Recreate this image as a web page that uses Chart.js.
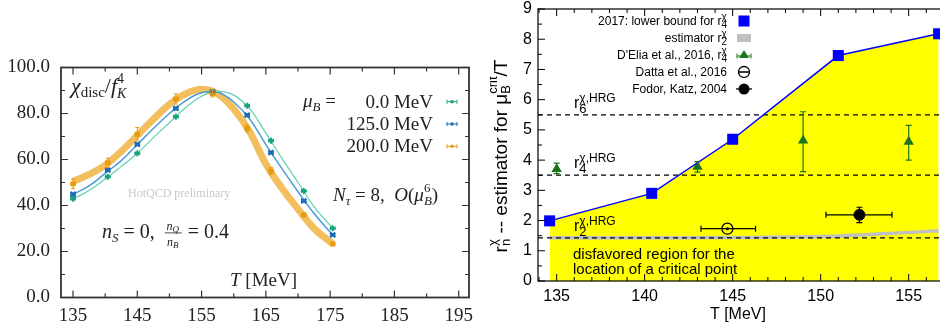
<!DOCTYPE html>
<html>
<head>
<meta charset="utf-8">
<script src="https://cdn.jsdelivr.net/npm/chart.js@4.4.1/dist/chart.umd.min.js"></script>
<style>
  html, body { margin: 0; padding: 0; background: #fff; overflow: hidden; width: 940px; height: 329px; }
  #left { position: absolute; left: 0; top: 0; }
  #right { position: absolute; left: 490px; top: 0; }
</style>
</head>
<body>
<canvas id="left" width="490" height="329"></canvas>
<canvas id="right" width="470" height="329"></canvas>
<script>
// ---- left panel: chi_disc / f_K^4 vs T ----
const latT = [135, 140.4, 145, 151, 156.7, 162.1, 165.8, 170.9, 175.4];
const latTErr = [0.35, 0.35, 0.35, 0.35, 0.35, 0.35, 0.35, 0.35, 0.35];
const chiMu0 = [42.9, 52.5, 62.7, 78.6, 89.2, 83.4, 68.2, 46.3, 30.1];
const chiMu125 = [44.9, 55.4, 66.6, 82.2, 89.4, 79.3, 63.0, 42.0, 27.2];
const chiMu200 = [49.4, 58.6, 71.0, 86.3, 88.7, 73.5, 55.0, 35.9, 23.3];
const errMu0 = [0.4, 0.4, 0.4, 0.4, 0.5, 0.4, 0.4, 0.4, 0.4];
const errMu125 = [0.5, 0.6, 0.6, 0.6, 0.6, 0.6, 0.6, 0.5, 0.5];
const errMu200 = [2.0, 2.0, 2.9, 2.2, 1.5, 1.6, 1.5, 0.7, 0.5];

const fitT = [135, 137.5, 140, 142.5, 145, 147.5, 150, 152.5, 155, 157.5, 160, 162.5, 165, 167.5, 170, 172.5, 175.4];
const fitMu0 = [42.9, 46.5, 51.5, 57, 62.7, 69.5, 76, 82.5, 87.5, 89.6, 88, 82, 71.5, 60.5, 50, 39.5, 30.1];
const fitMu125 = [44.9, 48.5, 54, 59.5, 66.5, 73.5, 80, 85.5, 89, 89.2, 85, 77.5, 66.5, 56, 46, 36.5, 27.2];
const fitMu200 = [50.5, 53.5, 57.5, 63.5, 70.5, 77.5, 84, 88.5, 90.5, 88.5, 82, 72, 58, 47.5, 38.5, 30, 23.3];

const muLabels = ['0.0 MeV', '125.0 MeV', '200.0 MeV'];
const leftXTicks = [135, 145, 155, 165, 175, 185, 195];
const leftYTicks = [0, 20, 40, 60, 80, 100];

// ---- right panel: r_n estimators for mu_B^crit/T ----
const boundT = [134.6, 140.4, 145, 151, 156.7];
const boundR4 = [1.99, 2.9, 4.69, 7.46, 8.18];
const estT = [134.6, 140, 145, 150, 153.5, 156.7];
const estR2 = [1.43, 1.43, 1.44, 1.47, 1.56, 1.66];
const deliaT = [135, 143, 149, 155];
const deliaR4 = [3.71, 3.78, 4.65, 4.61];
const deliaLo = [3.55, 3.6, 3.62, 4.0];
const deliaHi = [3.9, 3.95, 5.6, 5.15];
const dattaT = [144.7];
const dattaR = [1.73];
const dattaTLo = [143.2];
const dattaTHi = [146.3];
const fodorT = [152.2];
const fodorR = [2.19];
const fodorTLo = [150.3];
const fodorTHi = [154.05];
const fodorRLo = [1.93];
const fodorRHi = [2.44];
const hrgLevels = [5.5, 3.5, 1.43];
const hrgIdx = ['6', '4', '2'];
const rightXTicks = [135, 140, 145, 150, 155];
const rightYTicks = [0, 1, 2, 3, 4, 5, 6, 7, 8, 9];

const SERIF = '"Liberation Serif", "Times New Roman", serif';
const SANS = '"Liberation Sans", Arial, sans-serif';
const sf = (sz, it) => (it ? 'italic ' : '') + sz + 'px ' + SERIF;
const af = sz => sz + 'px ' + SANS;

const C0 = '#16a37c', C0L = '#5fd0b2';
const C125 = '#1a6db3', C125L = '#4b9bd8';
const C200 = '#e89c10', C200L = 'rgba(242,184,78,0.92)';
const GREEN = '#1b741b';

const pts = (xs, ys) => xs.map((x, i) => ({ x: x, y: ys[i] }));

// draw text pieces with sub/superscripts; {stack:true} puts next piece at same x
function rich(ctx, segs, x, y, align) {
  const pos = [];
  let w = 0;
  for (let i = 0; i < segs.length; i++) {
    ctx.font = segs[i].f;
    const sw = ctx.measureText(segs[i].t).width;
    if (segs[i].stack && segs[i + 1]) {
      ctx.font = segs[i + 1].f;
      const sw2 = ctx.measureText(segs[i + 1].t).width;
      pos.push(w, w);
      w += Math.max(sw, sw2);
      i++;
    } else {
      pos.push(w);
      w += sw;
    }
  }
  const x0 = align === 'right' ? x - w : align === 'center' ? x - w / 2 : x;
  ctx.textAlign = 'left';
  ctx.textBaseline = 'alphabetic';
  segs.forEach((s, k) => {
    ctx.font = s.f;
    ctx.fillText(s.t, x0 + pos[k], y + (s.dy || 0));
  });
  return w;
}

function midpoints(arr) {
  const out = [];
  for (let i = 0; i < arr.length - 1; i++) out.push((arr[i] + arr[i + 1]) / 2);
  return out;
}

// inward ticks on the frame
function frameTicks(chart, xs, ys, len, mirrorX, mirrorY) {
  const { ctx, chartArea: a, scales: { x, y } } = chart;
  ctx.beginPath();
  xs.forEach(v => {
    const px = x.getPixelForValue(v);
    ctx.moveTo(px, a.bottom); ctx.lineTo(px, a.bottom - len);
    if (mirrorX) { ctx.moveTo(px, a.top); ctx.lineTo(px, a.top + len); }
  });
  ys.forEach(v => {
    const py = y.getPixelForValue(v);
    ctx.moveTo(a.left, py); ctx.lineTo(a.left + len, py);
    if (mirrorY) { ctx.moveTo(a.right, py); ctx.lineTo(a.right - len, py); }
  });
  ctx.stroke();
}

function errBar(ctx, x0, y0, x1, y1, cap, vertical) {
  ctx.moveTo(x0, y0); ctx.lineTo(x1, y1);
  if (vertical) {
    ctx.moveTo(x0 - cap, y0); ctx.lineTo(x0 + cap, y0);
    ctx.moveTo(x1 - cap, y1); ctx.lineTo(x1 + cap, y1);
  } else {
    ctx.moveTo(x0, y0 - cap); ctx.lineTo(x0, y0 + cap);
    ctx.moveTo(x1, y1 - cap); ctx.lineTo(x1, y1 + cap);
  }
}

// keep the plot box exactly where the layout padding puts it
function noPad(s) {
  s.paddingTop = 0; s.paddingBottom = 0; s.paddingLeft = 0; s.paddingRight = 0;
}

const leftDecor = {
  id: 'leftDecor',
  afterDatasetsDraw(chart) {
    const { ctx, scales: { x, y } } = chart;
    const sets = [[chiMu0, errMu0, C0], [chiMu125, errMu125, C125], [chiMu200, errMu200, C200]];
    ctx.save();
    ctx.lineWidth = 1;
    sets.forEach(([vals, errs, col]) => {
      ctx.strokeStyle = col;
      ctx.beginPath();
      latT.forEach((t, i) => {
        const px = x.getPixelForValue(t), py = y.getPixelForValue(vals[i]);
        errBar(ctx, x.getPixelForValue(t - latTErr[i]), py, x.getPixelForValue(t + latTErr[i]), py, 2, false);
        errBar(ctx, px, y.getPixelForValue(vals[i] - errs[i]), px, y.getPixelForValue(vals[i] + errs[i]), 2, true);
      });
      ctx.stroke();
    });
    ctx.restore();
  },
  afterDraw(chart) {
    const { ctx, chartArea: a } = chart;
    ctx.save();
    ctx.strokeStyle = '#333';
    ctx.lineWidth = 1.8;
    ctx.strokeRect(a.left, a.top, a.right - a.left, a.bottom - a.top);
    ctx.lineWidth = 1.2;
    frameTicks(chart, leftXTicks, leftYTicks, 7, true, true);
    frameTicks(chart, midpoints(leftXTicks), midpoints(leftYTicks), 4, true, true);

    ctx.fillStyle = '#222';
    rich(ctx, [
      { t: 'χ', f: sf(22, true) }, { t: 'disc', f: sf(15), dy: 4 },
      { t: '/', f: sf(22) }, { t: 'f', f: sf(22, true) },
      { t: '4', f: sf(14), dy: -10, stack: true }, { t: 'K', f: sf(14, true), dy: 5 }
    ], 71, 93, 'left');

    // legend
    rich(ctx, [{ t: 'μ', f: sf(19, true) }, { t: 'B', f: sf(13, true), dy: 4 }, { t: ' =', f: sf(19) }], 303, 107, 'left');
    const legCols = [C0, C125, C200];
    muLabels.forEach((lab, i) => {
      const yy = 101.7 + i * 22.3;
      ctx.fillStyle = '#222';
      ctx.font = sf(19);
      ctx.textAlign = 'right';
      ctx.textBaseline = 'alphabetic';
      ctx.fillText(lab, 433, yy + 6);
      ctx.strokeStyle = legCols[i];
      ctx.fillStyle = legCols[i];
      ctx.lineWidth = 1;
      ctx.beginPath();
      errBar(ctx, 447, yy, 457, yy, 2, false);
      ctx.stroke();
      ctx.fillRect(450.5, yy - 1.5, 3, 3);
    });

    ctx.fillStyle = '#222';
    rich(ctx, [
      { t: 'N', f: sf(19, true) }, { t: 'τ', f: sf(13, true), dy: 4 },
      { t: ' = 8,  ', f: sf(19) }, { t: 'O', f: sf(19, true) }, { t: '(', f: sf(19) },
      { t: 'μ', f: sf(19, true) }, { t: '6', f: sf(13), dy: -9, stack: true }, { t: 'B', f: sf(13, true), dy: 4 },
      { t: ')', f: sf(19) }
    ], 333, 201, 'left');

    const w1 = rich(ctx, [
      { t: 'n', f: sf(20, true) }, { t: 'S', f: sf(13, true), dy: 4 }, { t: ' = 0,  ', f: sf(20) }
    ], 102, 238, 'left');
    const fx = 102 + w1;
    rich(ctx, [{ t: 'n', f: sf(12, true) }, { t: 'Q', f: sf(9, true), dy: 2 }], fx + 8, 230, 'center');
    rich(ctx, [{ t: 'n', f: sf(12, true) }, { t: 'B', f: sf(9, true), dy: 2 }], fx + 8, 246, 'center');
    ctx.fillRect(fx, 232.5, 17, 0.8);
    rich(ctx, [{ t: ' = 0.4', f: sf(20) }], fx + 18, 238, 'left');

    rich(ctx, [{ t: 'T', f: sf(19, true) }, { t: ' [MeV]', f: sf(19) }], 230, 286, 'left');

    ctx.fillStyle = '#c8c8c8';
    ctx.font = sf(12);
    ctx.textAlign = 'left';
    ctx.fillText('HotQCD preliminary', 128, 197);
    ctx.restore();
  }
};

new Chart(document.getElementById('left'), {
  type: 'line',
  data: {
    datasets: [
      { data: pts(latT, chiMu0), showLine: false, pointStyle: 'cross', pointRadius: 3, pointBorderWidth: 2, borderColor: C0, order: 0 },
      { data: pts(latT, chiMu125), showLine: false, pointStyle: 'crossRot', pointRadius: 3.5, pointBorderWidth: 2, borderColor: C125, order: 0 },
      { data: pts(latT, chiMu200), showLine: false, pointStyle: 'rect', pointRadius: 3.5, pointBorderWidth: 0, backgroundColor: C200, borderColor: C200, order: 0 },
      { data: pts(fitT, fitMu0), borderColor: C0L, borderWidth: 1.2, pointRadius: 0, tension: 0.4, order: 1 },
      { data: pts(fitT, fitMu125), borderColor: C125L, borderWidth: 1.5, pointRadius: 0, tension: 0.4, order: 2 },
      { data: pts(fitT, fitMu200), borderColor: C200L, borderWidth: 7, pointRadius: 0, tension: 0.4, order: 3 }
    ]
  },
  options: {
    responsive: false,
    animation: false,
    events: [],
    layout: { padding: { top: 67.5, right: 21, left: 0, bottom: 0 } },
    plugins: { legend: { display: false }, tooltip: { enabled: false } },
    scales: {
      x: {
        type: 'linear', min: 133.13, max: 196.6,
        grid: { display: false, drawTicks: false }, border: { display: false },
        afterBuildTicks: s => { s.ticks = leftXTicks.map(v => ({ value: v })); },
        ticks: { color: '#222', font: { family: SERIF, size: 19 }, padding: 7, maxRotation: 0, autoSkip: false },
        afterFit: s => { s.height = 329 - 297.5; noPad(s); }
      },
      y: {
        min: 0, max: 100,
        grid: { display: false, drawTicks: false }, border: { display: false },
        afterBuildTicks: s => { s.ticks = leftYTicks.map(v => ({ value: v })); },
        ticks: { color: '#222', font: { family: SERIF, size: 19 }, padding: 11, callback: v => v.toFixed(1) },
        afterFit: s => { s.width = 61; noPad(s); }
      }
    }
  },
  plugins: [leftDecor]
});

const rightDecor = {
  id: 'rightDecor',
  afterDatasetsDraw(chart) {
    const { ctx, scales: { x, y } } = chart;
    ctx.save();
    ctx.lineWidth = 1.2;
    ctx.strokeStyle = GREEN;
    ctx.beginPath();
    deliaT.forEach((t, i) => {
      const px = x.getPixelForValue(t);
      errBar(ctx, px, y.getPixelForValue(deliaLo[i]), px, y.getPixelForValue(deliaHi[i]), 3, true);
    });
    ctx.stroke();
    ctx.strokeStyle = '#000';
    ctx.beginPath();
    dattaT.forEach((t, i) => {
      const py = y.getPixelForValue(dattaR[i]);
      errBar(ctx, x.getPixelForValue(dattaTLo[i]), py, x.getPixelForValue(dattaTHi[i]), py, 3, false);
    });
    fodorT.forEach((t, i) => {
      const px = x.getPixelForValue(t), py = y.getPixelForValue(fodorR[i]);
      errBar(ctx, x.getPixelForValue(fodorTLo[i]), py, x.getPixelForValue(fodorTHi[i]), py, 3, false);
      errBar(ctx, px, y.getPixelForValue(fodorRLo[i]), px, y.getPixelForValue(fodorRHi[i]), 3, true);
    });
    ctx.stroke();
    ctx.fillStyle = '#000';
    dattaT.forEach((t, i) => {
      ctx.beginPath();
      ctx.arc(x.getPixelForValue(t), y.getPixelForValue(dattaR[i]), 1.5, 0, Math.PI * 2);
      ctx.fill();
    });
    ctx.restore();
  },
  afterDraw(chart) {
    const { ctx, chartArea: a, scales: { y } } = chart;
    ctx.save();
    ctx.strokeStyle = '#000';
    ctx.lineWidth = 1.2;
    ctx.strokeRect(a.left, a.top, a.right - a.left, a.bottom - a.top);
    ctx.lineWidth = 1;
    frameTicks(chart, rightXTicks, rightYTicks, 7, true, false);
    const xMinor = [], yMinor = [];
    for (let v = 134; v <= 157; v++) if (v % 5) xMinor.push(v);
    for (let v = 0.5; v < 9; v += 1) yMinor.push(v);
    frameTicks(chart, xMinor, yMinor, 4, true, false);

    ctx.fillStyle = '#000';
    // HRG level labels
    hrgLevels.forEach((lv, i) => {
      const by = y.getPixelForValue(lv) - 7;
      rich(ctx, [
        { t: 'r', f: af(16) },
        { t: 'χ,HRG', f: af(12), dy: -6, stack: true }, { t: hrgIdx[i], f: af(13), dy: 5 }
      ], 84, by, 'left');
    });

    ctx.font = af(15);
    ctx.textAlign = 'left';
    ctx.fillText('disfavored region for the', 83, 259);
    ctx.fillText('location of a critical point', 83, 274);

    // legend
    const lx = 237, sx = 254;
    const rows = [21, 38, 55, 72, 89];
    const leg = [
      [{ t: '2017: lower bound for r', f: af(12) }, { t: 'χ', f: af(10), dy: -5, stack: true }, { t: '4', f: af(10), dy: 3 }],
      [{ t: 'estimator r', f: af(12) }, { t: 'χ', f: af(10), dy: -5, stack: true }, { t: '2', f: af(10), dy: 3 }],
      [{ t: "D'Elia et al., 2016, r", f: af(12) }, { t: 'χ', f: af(10), dy: -5, stack: true }, { t: '4', f: af(10), dy: 3 }],
      [{ t: 'Datta et al., 2016', f: af(12) }],
      [{ t: 'Fodor, Katz, 2004', f: af(12) }]
    ];
    leg.forEach((segs, i) => rich(ctx, segs, lx, rows[i] + 4, 'right'));
    ctx.fillStyle = '#0000ff';
    ctx.fillRect(sx - 5.5, rows[0] - 5.5, 11, 11);
    ctx.fillStyle = '#c0c0c0';
    ctx.fillRect(sx - 7, rows[1] - 4, 14, 8);
    ctx.fillStyle = GREEN;
    ctx.strokeStyle = GREEN;
    ctx.beginPath();
    ctx.moveTo(sx, rows[2] - 5); ctx.lineTo(sx + 5, rows[2] + 3); ctx.lineTo(sx - 5, rows[2] + 3); ctx.closePath();
    ctx.fill();
    ctx.beginPath();
    errBar(ctx, sx - 7, rows[2] + 1, sx + 7, rows[2] + 1, 2.5, false);
    ctx.stroke();
    ctx.strokeStyle = '#000';
    ctx.fillStyle = '#000';
    ctx.lineWidth = 1.3;
    ctx.beginPath();
    ctx.arc(sx, rows[3], 5.5, 0, Math.PI * 2);
    ctx.moveTo(sx - 5.5, rows[3]); ctx.lineTo(sx + 5.5, rows[3]);
    ctx.stroke();
    ctx.beginPath();
    ctx.arc(sx, rows[4], 5.5, 0, Math.PI * 2);
    ctx.fill();
    ctx.beginPath();
    ctx.moveTo(sx - 8, rows[4]); ctx.lineTo(sx + 8, rows[4]);
    ctx.stroke();

    // axis titles
    ctx.fillStyle = '#000';
    ctx.font = af(16);
    ctx.textAlign = 'center';
    ctx.fillText('T [MeV]', (a.left + a.right) / 2 - 3, 319);
    ctx.translate(17, 156);
    ctx.rotate(-Math.PI / 2);
    rich(ctx, [
      { t: 'r', f: af(19) },
      { t: 'χ', f: af(13), dy: -10, stack: true }, { t: 'n', f: af(13), dy: 3 },
      { t: ' -- estimator for μ', f: af(19) },
      { t: 'crit', f: af(13), dy: -10, stack: true }, { t: 'B', f: af(13), dy: 3 },
      { t: '/T', f: af(19) }
    ], 0, 0, 'center');
    ctx.restore();
  }
};

const dash = lv => ({
  data: [{ x: 133.94, y: lv }, { x: 157, y: lv }],
  borderColor: '#000', borderWidth: 1.2, borderDash: [5, 4], pointRadius: 0, order: 2
});

new Chart(document.getElementById('right'), {
  type: 'line',
  data: {
    datasets: [
      { data: pts(boundT, boundR4), borderColor: '#0000ff', borderWidth: 1.5, pointStyle: 'rect', pointRadius: 7.8,
        pointBackgroundColor: '#0000ff', pointBorderWidth: 0, tension: 0, order: 0 },
      { data: pts(fodorT, fodorR), showLine: false, pointStyle: 'circle', pointRadius: 5.5,
        pointBackgroundColor: '#000', pointBorderColor: '#000', order: 1 },
      { data: pts(dattaT, dattaR), showLine: false, pointStyle: 'circle', pointRadius: 5.5,
        pointBackgroundColor: 'rgba(0,0,0,0)', pointBorderColor: '#000', pointBorderWidth: 1.3, order: 1 },
      { data: pts(deliaT, deliaR4), showLine: false, pointStyle: 'triangle', pointRadius: 6,
        pointBackgroundColor: GREEN, pointBorderColor: GREEN, pointBorderWidth: 0, order: 1 },
      ...hrgLevels.map(dash),
      { data: pts(estT, estR2), borderColor: '#c0c0c0', borderWidth: 3.5, pointRadius: 0, tension: 0.3, order: 3 },
      { data: pts(boundT, boundR4), fill: 'origin', backgroundColor: '#ffff00', borderWidth: 0, pointRadius: 0, order: 5 }
    ]
  },
  options: {
    responsive: false,
    animation: false,
    events: [],
    layout: { padding: { top: 9, right: 16.1, left: 0, bottom: 0 } },
    plugins: { legend: { display: false }, tooltip: { enabled: false } },
    scales: {
      x: {
        type: 'linear', min: 133.94, max: 157,
        grid: { display: false, drawTicks: false }, border: { display: false },
        afterBuildTicks: s => { s.ticks = rightXTicks.map(v => ({ value: v })); },
        ticks: { color: '#000', font: { family: SANS, size: 16 }, padding: 6, maxRotation: 0, autoSkip: false },
        afterFit: s => { s.height = 329 - 281; noPad(s); }
      },
      y: {
        min: 0, max: 9,
        grid: { display: false, drawTicks: false }, border: { display: false },
        afterBuildTicks: s => { s.ticks = rightYTicks.map(v => ({ value: v })); },
        ticks: { color: '#000', font: { family: SANS, size: 16 }, padding: 6 },
        afterFit: s => { s.width = 48; noPad(s); }
      }
    }
  },
  plugins: [rightDecor]
});
</script>
</body>
</html>
